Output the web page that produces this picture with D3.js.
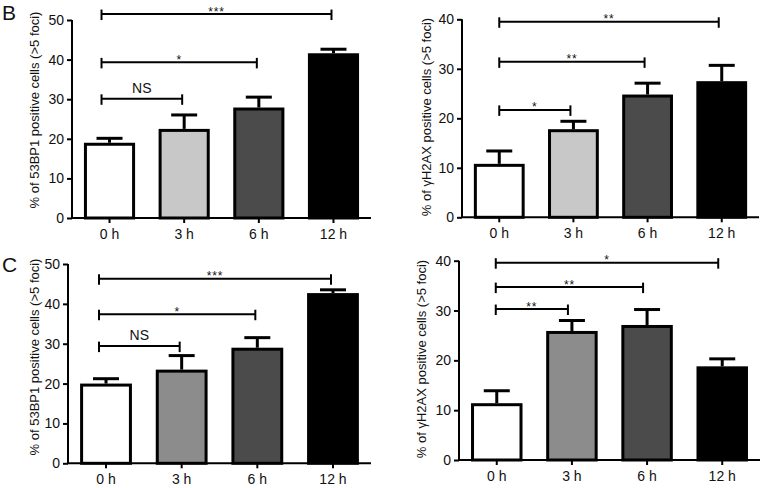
<!DOCTYPE html>
<html>
<head>
<meta charset="utf-8">
<script src="https://cdn.jsdelivr.net/npm/d3@7"></script>
<style>
  html, body { margin: 0; padding: 0; background: #fff; }
  svg { display: block; font-family: "Liberation Sans", Arial, sans-serif; }
</style>
</head>
<body>
<svg id="chart" width="765" height="488"></svg>
<script>
// ---------- data ----------
const categories = ["0 h", "3 h", "6 h", "12 h"];

// Panel B, 53BP1
const b53BP1Mean = [19.0, 22.5, 27.9, 41.6];
const b53BP1Err  = [1.5, 3.9, 3.0, 1.4];
const b53BP1Ticks = [0, 10, 20, 30, 40, 50];
const b53BP1Sig = [
  { from: 0, to: 1, level: 30.1, label: "NS" },
  { from: 0, to: 2, level: 39.3, label: "*" },
  { from: 0, to: 3, level: 51.5, label: "***" }
];

// Panel B, γH2AX
const bH2AXMean = [10.8, 17.8, 24.8, 27.5];
const bH2AXErr  = [2.9, 1.9, 2.6, 3.5];
const bH2AXTicks = [0, 10, 20, 30, 40];
const bH2AXSig = [
  { from: 0, to: 1, level: 21.7, label: "*" },
  { from: 0, to: 2, level: 31.4, label: "**" },
  { from: 0, to: 3, level: 39.5, label: "**" }
];

// Panel C, 53BP1
const c53BP1Mean = [20.0, 23.5, 29.0, 42.7];
const c53BP1Err  = [1.6, 3.9, 2.9, 1.2];
const c53BP1Ticks = [0, 10, 20, 30, 40, 50];
const c53BP1Sig = [
  { from: 0, to: 1, level: 29.4, label: "NS" },
  { from: 0, to: 2, level: 37.4, label: "*" },
  { from: 0, to: 3, level: 46.3, label: "***" }
];

// Panel C, γH2AX
const cH2AXMean = [11.4, 25.9, 27.1, 18.8];
const cH2AXErr  = [2.8, 2.4, 3.4, 1.8];
const cH2AXTicks = [0, 10, 20, 30, 40];
const cH2AXSig = [
  { from: 0, to: 1, level: 30.3, label: "**" },
  { from: 0, to: 2, level: 34.7, label: "**" },
  { from: 0, to: 3, level: 39.6, label: "*" }
];

const title53BP1 = "% of 53BP1 positive cells (>5 foci)";
const titleH2AX  = "% of γH2AX positive cells (>5 foci)";
const fillsB = ["#ffffff", "#c8c8c8", "#4b4b4b", "#000000"];
const fillsC = ["#ffffff", "#8c8c8c", "#4b4b4b", "#000000"];

// ---------- drawing ----------
const svg = d3.select("#chart");

function drawPanel(p) {
  const g = svg.append("g");
  const x = d3.scaleBand().domain(categories)
    .range([p.x0, p.x1]).paddingInner(0.315).paddingOuter(0.16);
  const y = d3.scaleLinear().domain([0, p.ymax]).range([p.y0, p.yTop]);

  // bars
  g.selectAll("rect.bar").data(p.mean).enter().append("rect")
    .attr("x", (d, i) => x(categories[i]) + 1.5)
    .attr("width", x.bandwidth() - 3)
    .attr("y", d => y(d) + 1.5)
    .attr("height", d => p.y0 - y(d) - 1.5)
    .attr("fill", (d, i) => p.fills[i])
    .attr("stroke", "#000").attr("stroke-width", 3);

  // error bars (upper only)
  const cx = i => x(categories[i]) + x.bandwidth() / 2;
  p.mean.forEach((m, i) => {
    const top = y(m + p.err[i]);
    g.append("line").attr("x1", cx(i)).attr("x2", cx(i))
      .attr("y1", y(m)).attr("y2", top + 1.5)
      .attr("stroke", "#000").attr("stroke-width", 3);
    g.append("line").attr("x1", cx(i) - 13).attr("x2", cx(i) + 13)
      .attr("y1", top + 1.5).attr("y2", top + 1.5)
      .attr("stroke", "#000").attr("stroke-width", 3);
  });

  // axes
  const yAxis = d3.axisLeft(y).tickValues(p.ticks).tickSize(5).tickPadding(3);
  const ya = g.append("g").attr("transform", `translate(${p.x0},0)`).call(yAxis);
  const xAxis = d3.axisBottom(x).tickSize(5).tickPadding(6);
  const xa = g.append("g").attr("transform", `translate(0,${p.y0})`).call(xAxis);
  [ya, xa].forEach(a => {
    a.select(".domain").attr("stroke-width", 2).attr("stroke", "#000");
    a.selectAll(".tick line").attr("stroke-width", 2).attr("stroke", "#000");
    a.selectAll("text").attr("font-size", 14).attr("fill", "#111")
      .attr("font-family", "Liberation Sans, Arial, sans-serif");
  });
  ya.select(".domain").attr("d", `M-0,${p.y0}V${p.yTop}`);
  xa.select(".domain").attr("d", `M${p.x0},0H${p.x1}`);

  // axis title
  g.append("text")
    .attr("transform", `translate(${p.titleX},${p.titleY}) rotate(-90)`)
    .attr("text-anchor", "middle").attr("dominant-baseline", "central")
    .attr("font-size", 13).attr("fill", "#111").text(p.title);

  // significance brackets
  p.sig.forEach(s => {
    const xa1 = cx(s.from) + p.brL, xb1 = cx(s.to) + p.brR;
    const yy = y(s.level);
    g.append("line").attr("x1", xa1).attr("x2", xb1).attr("y1", yy).attr("y2", yy)
      .attr("stroke", "#000").attr("stroke-width", 2);
    [xa1, xb1].forEach(xx => g.append("line")
      .attr("x1", xx).attr("x2", xx).attr("y1", yy - 4.5).attr("y2", yy + 6)
      .attr("stroke", "#000").attr("stroke-width", 2));
    const isNS = s.label === "NS";
    g.append("text")
      .attr("x", (xa1 + xb1) / 2)
      .attr("y", isNS ? yy - 6 : yy + 1.5)
      .attr("text-anchor", "middle")
      .attr("font-size", isNS ? 14 : 12)
      .attr("letter-spacing", isNS ? 0 : 0.8)
      .attr("fill", "#111").text(s.label);
  });

  if (p.letter) {
    svg.append("text").attr("x", p.letterX).attr("y", p.letterY)
      .attr("font-size", 21).attr("fill", "#111").text(p.letter);
  }
}

drawPanel({ mean: b53BP1Mean, err: b53BP1Err, ticks: b53BP1Ticks, sig: b53BP1Sig,
  ymax: 50, x0: 72, x1: 371, y0: 218, yTop: 20, fills: fillsB,
  title: title53BP1, titleX: 34, titleY: 110, brL: -8, brR: -2,
  letter: "B", letterX: 2, letterY: 20 });

drawPanel({ mean: bH2AXMean, err: bH2AXErr, ticks: bH2AXTicks, sig: bH2AXSig,
  ymax: 40, x0: 462, x1: 759, y0: 217.3, yTop: 19.3, fills: fillsB,
  title: titleH2AX, titleX: 426, titleY: 117, brL: 0, brR: -3 });

drawPanel({ mean: c53BP1Mean, err: c53BP1Err, ticks: c53BP1Ticks, sig: c53BP1Sig,
  ymax: 50, x0: 68, x1: 371, y0: 463.3, yTop: 264, fills: fillsC,
  title: title53BP1, titleX: 34, titleY: 357, brL: -7, brR: -2,
  letter: "C", letterX: 2, letterY: 272 });

drawPanel({ mean: cH2AXMean, err: cH2AXErr, ticks: cH2AXTicks, sig: cH2AXSig,
  ymax: 40, x0: 459, x1: 760, y0: 460, yTop: 260.7, fills: fillsC,
  title: titleH2AX, titleX: 421.5, titleY: 359, brL: -1, brR: -4 });
</script>
</body>
</html>
